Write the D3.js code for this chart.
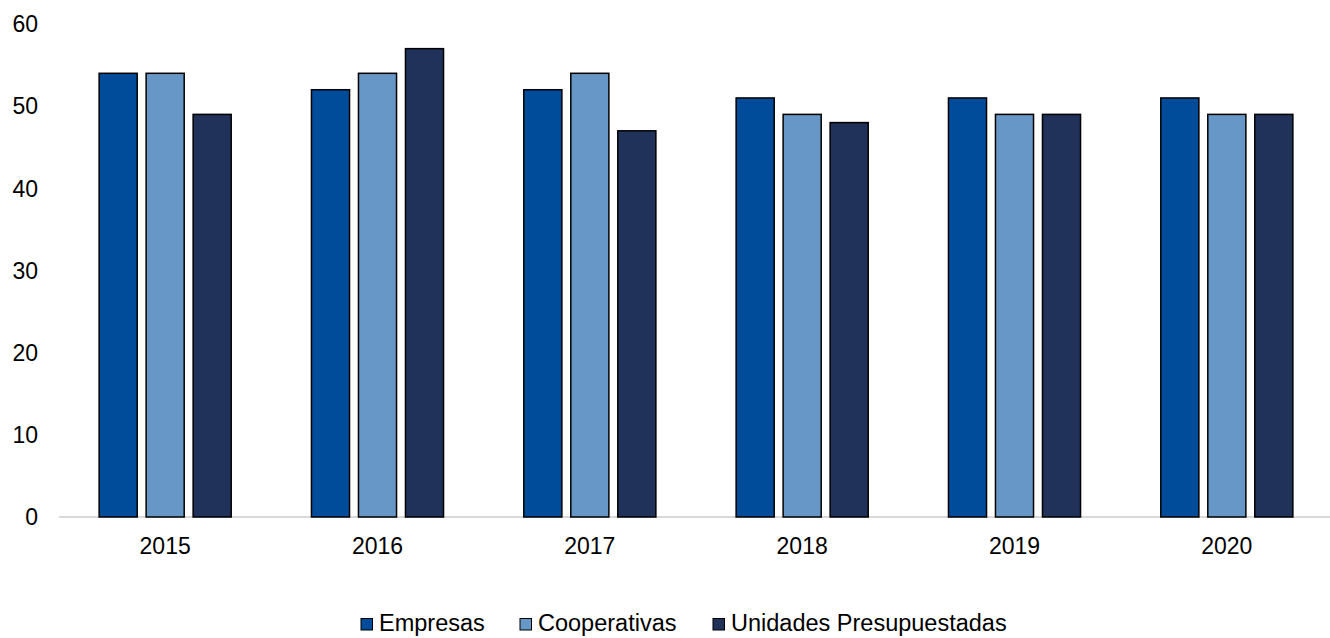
<!DOCTYPE html>
<html><head><meta charset="utf-8">
<script src="https://cdn.jsdelivr.net/npm/d3@7"></script>
<style>body{margin:0;background:#fff}svg{display:block;font-family:"Liberation Sans",Arial,sans-serif}</style>
</head><body><svg id="c" width="1330" height="638"></svg>
<script>
const years = ["2015","2016","2017","2018","2019","2020"];
const seriesNames = ["Empresas","Cooperativas","Unidades Presupuestadas"];
const empresas = [54,52,52,51,51,51];
const cooperativas = [54,54,54,49,49,49];
const unidades = [49,57,47,48,49,49];
const yTicks = [0,10,20,30,40,50,60];
const colors = ["#004C9A","#6797C6","#20325A"];
const seriesValues = [empresas, cooperativas, unidades];

const svg = d3.select("#c");
const x0 = d3.scaleBand().domain(years).range([59,1333]).paddingInner(0.378).paddingOuter(0.189);
const x1 = d3.scaleBand().domain(seriesNames).range([0,x0.bandwidth()]).paddingInner(0.19);
const y = d3.scaleLinear().domain([0,60]).range([517,24]);

svg.append("line").attr("x1",59).attr("x2",1330).attr("y1",y(0)).attr("y2",y(0))
  .attr("stroke","#d9d9d9").attr("stroke-width",2);

svg.append("g").selectAll("text").data(yTicks).join("text")
  .attr("x",38).attr("y",d=>y(d)).attr("dy","0.36em").attr("text-anchor","end")
  .attr("font-size",23).attr("fill","#000").text(d=>d);

const g = svg.append("g").selectAll("g").data(years).join("g")
  .attr("transform",d=>`translate(${x0(d)},0)`);
g.selectAll("rect").data((d,i)=>seriesNames.map((s,j)=>({s,v:seriesValues[j][i],j})))
  .join("rect")
  .attr("x",d=>x1(d.s)).attr("width",x1.bandwidth())
  .attr("y",d=>y(d.v)).attr("height",d=>y(0)-y(d.v))
  .attr("fill",d=>colors[d.j]).attr("stroke","#000").attr("stroke-width",1.5);

svg.append("g").selectAll("text").data(years).join("text")
  .attr("x",d=>x0(d)+x0.bandwidth()/2).attr("y",553.5).attr("text-anchor","middle")
  .attr("font-size",23).attr("fill","#000").text(d=>d);

const legX = [361,520,713];
const leg = svg.append("g").selectAll("g").data(seriesNames).join("g")
  .attr("transform",(d,i)=>`translate(${legX[i]},0)`);
leg.append("rect").attr("x",0).attr("y",618.5).attr("width",11.5).attr("height",11.5)
  .attr("fill",(d,i)=>colors[i]).attr("stroke","#000").attr("stroke-width",1);
leg.append("text").attr("x",18).attr("y",631).attr("font-size",23.5).attr("fill","#000").text(d=>d);
</script></body></html>
